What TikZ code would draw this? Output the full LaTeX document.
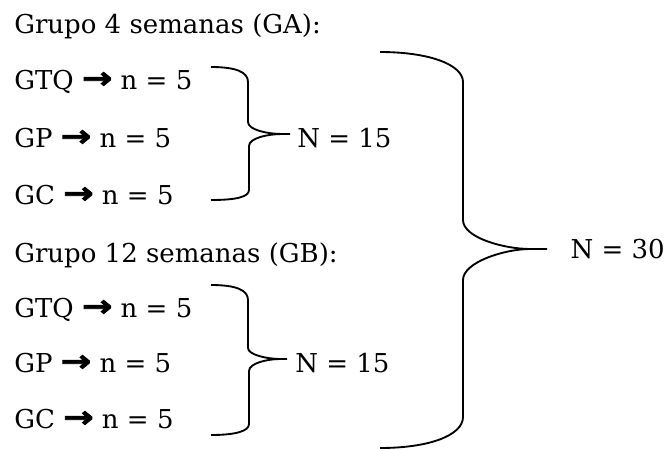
\documentclass[tikz,border=0pt]{standalone}
\usepackage{fontspec}
\setmainfont{DejaVu Serif}
\newfontfamily\arrowfont{DejaVu Sans}[FakeBold=2.5]
\newcommand{\myarrow}{\raisebox{0.5pt}{\scalebox{1.4}[1.15]{\arrowfont\bfseries →}}}
\begin{document}
\begin{tikzpicture}[x=0.75pt,y=-0.75pt,
  txt/.style={anchor=base west,inner sep=0pt,font=\fontsize{19.5}{23}\selectfont},
  brace/.style={line width=1.4pt,line join=round}]
\useasboundingbox (0,0) rectangle (667,450);
\node[txt] (ga) at (14,33) {Grupo 4 semanas (GA):};
\node[txt] (a1) at (14,89) {GTQ \myarrow{} n = 5};
\node[txt] (a2) at (14,147) {GP \myarrow{} n = 5};
\node[txt] (a3) at (14,204) {GC \myarrow{} n = 5};
\node[txt] (gb) at (14,262) {Grupo 12 semanas (GB):};
\node[txt] (b1) at (14,317) {GTQ \myarrow{} n = 5};
\node[txt] (b2) at (14,372) {GP \myarrow{} n = 5};
\node[txt] (b3) at (14,428) {GC \myarrow{} n = 5};
\node[txt] (na) at (297,147) {N = 15};
\node[txt] (nb) at (295,372) {N = 15};
\node[txt,anchor=base east] (nt) at (665,258) {N = 30};
% small brace A
\draw[brace] (211,67) .. controls (236,67) and (248,72) .. (248,82) -- (248,122)
  .. controls (248,130) and (268,134) .. (282,134) -- (290,134)
  (282,134) .. controls (268,134) and (249,138) .. (249,146) -- (249,190)
  .. controls (249,197) and (236,200) .. (211,200);
% small brace B
\draw[brace] (211,285) .. controls (236,285) and (248,290) .. (248,300) -- (248,348)
  .. controls (248,355) and (268,359) .. (280,359) -- (287,359)
  (280,359) .. controls (268,359) and (249,363) .. (249,371) -- (249,424)
  .. controls (249,431) and (236,435) .. (211,435);
% big brace
\draw[brace] (380,52) .. controls (430,52) and (463,65) .. (463,82) -- (463,220)
  .. controls (463,238) and (505,249) .. (530,249) -- (547,249)
  (530,249) .. controls (505,249) and (463,262) .. (463,280) -- (463,417)
  .. controls (463,435) and (430,448) .. (380,448);
\end{tikzpicture}
\end{document}
